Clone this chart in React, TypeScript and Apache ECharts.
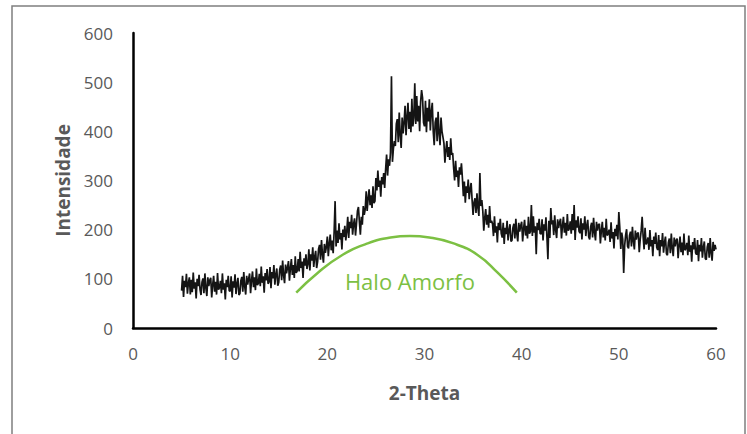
import React, { useEffect, useRef } from "react";
import * as echarts from "echarts";

// 2-Theta from 5 to 60, step 0.1 (one row per degree)
const thetaStart = 5;
const thetaStep = 0.1;
const intensity: number[] = [
  76, 106, 63, 96, 83, 110, 70, 91, 103, 68,
  98, 73, 113, 80, 93, 60, 100, 85, 108, 78,
  67, 93, 101, 71, 111, 81, 65, 103, 85, 97,
  102, 62, 88, 106, 74, 94, 68, 112, 78, 82,
  96, 71, 111, 78, 91, 58, 98, 83, 106, 76,
  75, 105, 62, 95, 82, 109, 69, 90, 102, 67,
  70, 96, 104, 74, 114, 84, 68, 106, 88, 100,
  111, 71, 97, 115, 83, 103, 77, 121, 87, 91,
  110, 85, 125, 92, 105, 72, 112, 97, 120, 90,
  94, 124, 81, 114, 101, 128, 88, 109, 121, 86,
  93, 119, 127, 97, 137, 107, 91, 129, 111, 123,
  136, 96, 122, 140, 108, 128, 102, 146, 112, 116,
  140, 115, 155, 122, 135, 102, 142, 127, 150, 120,
  130, 160, 117, 150, 137, 164, 124, 145, 157, 122,
  135, 161, 169, 139, 179, 149, 133, 171, 153, 165,
  186, 146, 172, 190, 158, 178, 152, 196, 258, 166,
  198, 173, 213, 180, 193, 160, 200, 185, 208, 178,
  196, 226, 183, 216, 203, 230, 190, 211, 223, 188,
  212, 238, 246, 216, 190, 226, 210, 248, 230, 242,
  278, 238, 264, 282, 250, 270, 244, 288, 254, 258,
  305, 280, 320, 287, 300, 267, 307, 292, 315, 285,
  323, 353, 310, 343, 330, 357, 512, 338, 365, 380,
  370, 415, 425, 378, 438, 392, 366, 428, 396, 418,
  452, 392, 430, 458, 405, 440, 398, 466, 410, 428,
  498, 415, 472, 420, 452, 400, 460, 484, 468, 418,
  410, 462, 398, 448, 420, 465, 402, 440, 458, 400,
  372, 418, 428, 380, 440, 395, 372, 428, 400, 388,
  376, 336, 362, 380, 348, 368, 342, 386, 352, 356,
  325, 300, 340, 307, 320, 287, 327, 312, 335, 305,
  268, 298, 255, 288, 275, 302, 262, 283, 295, 260,
  230, 256, 264, 234, 274, 244, 228, 315, 248, 260,
  238, 198, 224, 242, 210, 230, 204, 248, 214, 218,
  212, 187, 227, 194, 207, 174, 214, 199, 222, 192,
  184, 214, 171, 204, 191, 218, 178, 199, 211, 176,
  178, 204, 212, 182, 222, 192, 176, 214, 196, 208,
  216, 176, 202, 220, 188, 208, 182, 226, 192, 196,
  250, 187, 227, 194, 207, 150, 214, 199, 222, 192,
  191, 221, 178, 211, 198, 225, 185, 140, 218, 183,
  244, 211, 219, 189, 229, 199, 183, 221, 203, 215,
  222, 182, 208, 226, 194, 214, 188, 232, 198, 202,
  217, 192, 232, 199, 250, 179, 219, 204, 227, 197,
  193, 223, 180, 213, 200, 227, 187, 208, 220, 185,
  180, 206, 214, 184, 224, 194, 178, 216, 198, 210,
  212, 172, 198, 216, 184, 204, 178, 222, 188, 192,
  200, 175, 215, 182, 195, 162, 202, 187, 210, 180,
  236, 204, 161, 194, 181, 112, 168, 189, 201, 166,
  162, 188, 196, 166, 206, 176, 160, 198, 180, 192,
  194, 154, 180, 198, 226, 186, 160, 204, 170, 174,
  184, 159, 199, 166, 179, 146, 186, 171, 194, 164,
  159, 189, 146, 179, 166, 193, 153, 174, 186, 151,
  148, 174, 182, 152, 192, 162, 146, 184, 166, 178,
  182, 142, 168, 186, 154, 174, 148, 192, 158, 162,
  173, 148, 188, 155, 168, 135, 175, 160, 183, 153,
  149, 179, 136, 169, 156, 183, 143, 164, 176, 141,
  139, 165, 173, 143, 183, 153, 137, 175, 157, 169,
  160,
];

// Hand-drawn "Halo Amorfo" arc annotation
const haloX: number[] = [16.8, 19, 21.5, 24, 26.5, 28.5, 30.5, 33, 35.5, 37.5, 39.5];
const haloY: number[] = [72, 112, 148, 171, 184, 187, 184, 172, 148, 113, 72];
const haloLabel = "Halo Amorfo";
const haloLabelPos: number[] = [28.5, 96];

const xTicks = { min: 0, max: 60, interval: 10 };
const yTicks = { min: 0, max: 600, interval: 100 };

export default function App() {
  const ref = useRef<HTMLDivElement>(null);
  useEffect(() => {
    if (!ref.current) return;
    const chart = echarts.init(ref.current, null, { renderer: "svg" });
    const mainData = intensity.map((v, i) => [
      +(thetaStart + i * thetaStep).toFixed(1),
      v,
    ]);
    const halo = haloX.map((x, i) => [x, haloY[i]]);
    const font = "Open Sans, Liberation Sans, sans-serif";
    chart.setOption({
      animation: false,
      backgroundColor: "#ffffff",
      grid: { left: 133, right: 31, top: 33, bottom: 106, containLabel: false },
      xAxis: {
        type: "value",
        min: xTicks.min,
        max: xTicks.max,
        interval: xTicks.interval,
        name: "2-Theta",
        nameLocation: "middle",
        nameGap: 55,
        nameTextStyle: { color: "#595959", fontSize: 19, fontWeight: "bold", fontFamily: font },
        axisLine: { show: true, onZero: false, lineStyle: { color: "#000", width: 2.5 } },
        axisTick: { show: false },
        splitLine: { show: false },
        axisLabel: { color: "#595959", fontSize: 17, margin: 17, fontFamily: font },
      },
      yAxis: {
        type: "value",
        min: yTicks.min,
        max: yTicks.max,
        interval: yTicks.interval,
        name: "Intensidade",
        nameLocation: "middle",
        nameGap: 60,
        nameTextStyle: { color: "#595959", fontSize: 19, fontWeight: "bold", fontFamily: font },
        axisLine: { show: true, lineStyle: { color: "#000", width: 2.5 } },
        axisTick: { show: false },
        splitLine: { show: false },
        axisLabel: { color: "#595959", fontSize: 17, margin: 20, fontFamily: font },
      },
      series: [
        {
          type: "line",
          data: mainData,
          showSymbol: false,
          symbol: "none",
          lineStyle: { color: "#141414", width: 1.7 },
          z: 3,
        },
        {
          type: "line",
          data: halo,
          smooth: true,
          showSymbol: false,
          symbol: "none",
          lineStyle: { color: "#7cc043", width: 2.5 },
          z: 4,
          markPoint: {
            symbol: "circle",
            symbolSize: 0,
            data: [{ coord: haloLabelPos, value: haloLabel }],
            label: {
              show: true,
              formatter: haloLabel,
              color: "#7cc043",
              fontSize: 22,
              fontFamily: font,
              position: "inside",
            },
          },
        },
      ],
      graphic: [
        {
          type: "rect",
          shape: { x: 12, y: 6, width: 733, height: 440 },
          style: { fill: "none", stroke: "#7f7f7f", lineWidth: 1.5 },
          silent: true,
        },
      ],
    });
    return () => chart.dispose();
  }, []);
  return (
    <div
      ref={ref}
      style={{ position: "fixed", left: 0, top: 0, width: 747, height: 434 }}
    />
  );
}
